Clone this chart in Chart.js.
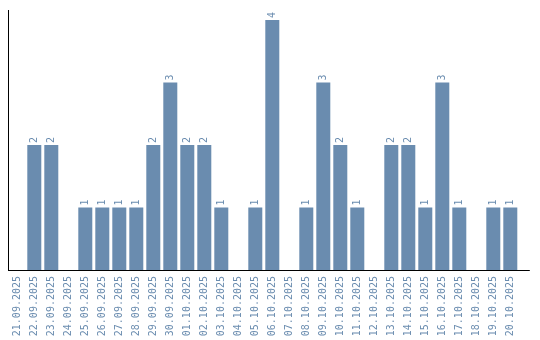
<!DOCTYPE html>
<html>
<head>
<meta charset="utf-8">
<script src="https://cdn.jsdelivr.net/npm/chart.js@4/dist/chart.umd.min.js"></script>
<style>
html,body{margin:0;padding:0;background:#fff;}
#wrap{width:540px;height:340px;}
</style>
</head>
<body>
<div id="wrap"><canvas id="c" width="540" height="340"></canvas></div>
<script>
const categories = ["21.09.2025","22.09.2025","23.09.2025","24.09.2025","25.09.2025","26.09.2025","27.09.2025","28.09.2025","29.09.2025","30.09.2025","01.10.2025","02.10.2025","03.10.2025","04.10.2025","05.10.2025","06.10.2025","07.10.2025","08.10.2025","09.10.2025","10.10.2025","11.10.2025","12.10.2025","13.10.2025","14.10.2025","15.10.2025","16.10.2025","17.10.2025","18.10.2025","19.10.2025","20.10.2025"];
const counts = [0,2,2,0,1,1,1,1,2,3,2,2,1,0,1,4,0,1,3,2,1,0,2,2,1,3,1,0,1,1];

const barColor = '#6a8caf';
const textColor = '#6a8caf';
const monoFont = "'DejaVu Sans Mono', 'Liberation Mono', monospace";

const valueLabels = {
  id: 'valueLabels',
  afterDatasetsDraw(chart) {
    const ctx = chart.ctx;
    const meta = chart.getDatasetMeta(0);
    ctx.save();
    ctx.fillStyle = textColor;
    ctx.font = "10px " + monoFont;
    ctx.textAlign = 'left';
    ctx.textBaseline = 'middle';
    meta.data.forEach((el, i) => {
      const v = counts[i];
      if (!v) return;
      ctx.save();
      ctx.translate(el.x, el.y - 2);
      ctx.rotate(-Math.PI / 2);
      ctx.fillText(String(v), 0, 0);
      ctx.restore();
    });
    ctx.restore();
  },
  afterDraw(chart) {
    const ctx = chart.ctx;
    const a = chart.chartArea;
    ctx.save();
    ctx.strokeStyle = '#000';
    ctx.lineWidth = 1;
    ctx.beginPath();
    ctx.moveTo(a.right, Math.round(a.bottom) + 0.5);
    ctx.lineTo(a.right + 11, Math.round(a.bottom) + 0.5);
    ctx.stroke();
    ctx.restore();
  }
};

new Chart(document.getElementById('c'), {
  type: 'bar',
  data: {
    labels: categories,
    datasets: [{
      data: counts,
      backgroundColor: barColor,
      borderWidth: 0,
      categoryPercentage: 1.0,
      barPercentage: 14/17
    }]
  },
  options: {
    responsive: false,
    animation: false,
    devicePixelRatio: 1,
    layout: { padding: { left: 8.8, right: 21.2, top: 10, bottom: 0 } },
    plugins: { legend: { display: false }, tooltip: { enabled: false } },
    scales: {
      x: {
        grid: { display: false, drawTicks: false },
        border: { display: true, color: '#000', width: 1 },
        ticks: {
          autoSkip: false,
          maxRotation: 90,
          minRotation: 90,
          padding: 6,
          color: textColor,
          font: { family: monoFont, size: 10 }
        },
        afterFit(scale) { scale.height = 70; }
      },
      y: {
        min: 0,
        max: 4.16,
        grid: { display: false, drawTicks: false },
        border: { display: true, color: '#000', width: 1 },
        ticks: { display: false },
        afterFit(scale) { scale.width = 0; }
      }
    }
  },
  plugins: [valueLabels]
});
</script>
</body>
</html>
